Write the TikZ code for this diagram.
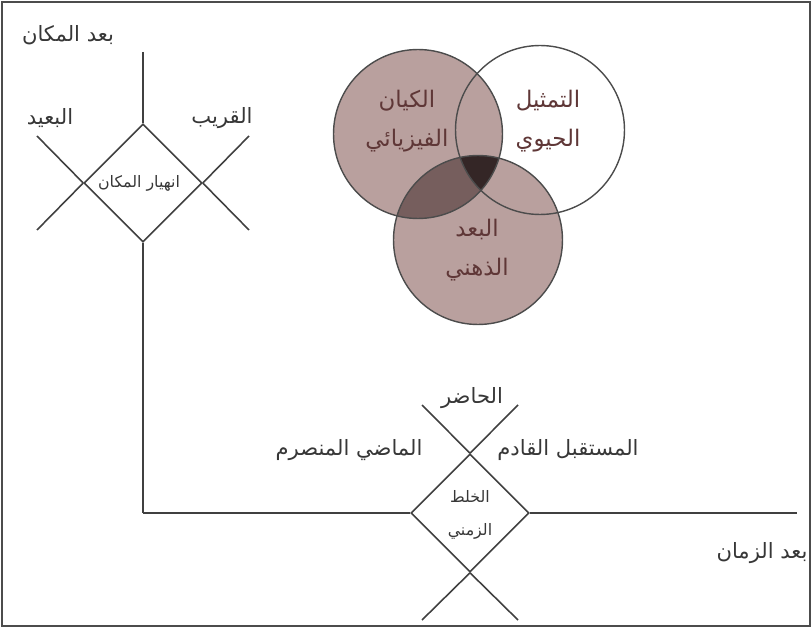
\documentclass[tikz,border=0pt]{standalone}
\usepackage{fontspec}
\newfontfamily\arabicfont[Script=Arabic]{DejaVu Sans}
\TeXXeTstate=1
\usetikzlibrary{shapes.geometric}
\definecolor{vennfill}{RGB}{185,160,158}
\definecolor{venntwo}{RGB}{118,94,93}
\definecolor{vennthree}{RGB}{52,38,38}
\definecolor{inktext}{RGB}{55,55,55}
\definecolor{venntext}{RGB}{95,55,55}
\newcommand{\artxt}[1]{\beginR #1\endR}
\tikzset{rhomb/.style={draw=black!75, line width=0.9pt, diamond, minimum width=2.36cm, minimum height=2.36cm, inner sep=0pt},
         axis/.style={draw=black!75, line width=0.9pt},
         venn/.style={draw=black!70, line width=0.8pt, circle, minimum size=3.38cm, inner sep=0pt},
         lbl/.style={text=inktext, inner sep=1pt, font=\arabicfont\fontsize{12}{14}\selectfont},
         smalllbl/.style={text=inktext, inner sep=1pt, align=center, font=\arabicfont\fontsize{9}{19}\selectfont},
         inlbl/.style={text=venntext, inner sep=1pt, align=center, font=\arabicfont\fontsize{13}{22}\selectfont}}

\begin{document}
\begin{tikzpicture}[x=0.02cm, y=-0.02cm]
    \useasboundingbox (0,0) rectangle (812,628);
    \draw[draw=black!70, line width=0.8pt] (2,2) rectangle (810,626);
    % place
    \node[rhomb](collapse)at(143,183){};
    \coordinate(placetop)at(143,52);
    \coordinate(corner)at(143,513);
    \coordinate(farup)at(37,136);
    \coordinate(fardown)at(37,230);
    \coordinate(nearup)at(249,136);
    \coordinate(neardown)at(249,230);
    \draw[axis](placetop)--(collapse.north);
    \draw[axis](collapse.south)--(corner);
    \draw[axis](collapse.west)--(farup);
    \draw[axis](collapse.west)--(fardown);
    \draw[axis](collapse.east)--(nearup);
    \draw[axis](collapse.east)--(neardown);
    \node[lbl](placeaxis)at(68,35){\artxt{بعد المكان}};
    \node[lbl](far)at(50,118){\artxt{البعيد}};
    \node[lbl](near)at(222,118){\artxt{القريب}};
    \node[smalllbl](collapsetxt)at(139,183){\artxt{انهيار المكان}};
    % time
    \node[rhomb](mix)at(470,513){};
    \coordinate(timeend)at(797,513);
    \coordinate(pastup)at(422,405);
    \coordinate(futureup)at(518,405);
    \coordinate(pastdown)at(422,620);
    \coordinate(futuredown)at(518,620);
    \draw[axis](corner)--(mix.west);
    \draw[axis](mix.east)--(timeend);
    \draw[axis](mix.north)--(pastup);
    \draw[axis](mix.north)--(futureup);
    \draw[axis](mix.south)--(pastdown);
    \draw[axis](mix.south)--(futuredown);
    \node[lbl](present)at(472,398){\artxt{الحاضر}};
    \node[lbl](past)at(349,450){\artxt{الماضي المنصرم}};
    \node[lbl](future)at(568,450){\artxt{المستقبل القادم}};
    \node[smalllbl](mixtxt)at(470,515){\artxt{الخلط}\\\artxt{الزمني}};
    \node[lbl](timeaxis)at(762,553){\artxt{بعد الزمان}};
    % venn
    \coordinate(bodyc)at(418,134);
    \coordinate(lifec)at(540,130);
    \coordinate(mindc)at(478,240);
    \fill[vennfill](bodyc)circle(1.69cm);
    \fill[vennfill](mindc)circle(1.69cm);
    \begin{scope}
        \clip(bodyc)circle(1.69cm);
        \fill[venntwo](mindc)circle(1.69cm);
        \clip(mindc)circle(1.69cm);
        \fill[vennthree](lifec)circle(1.69cm);
    \end{scope}
    \node[venn](body)at(bodyc){};
    \node[venn](life)at(lifec){};
    \node[venn](mind)at(mindc){};
    \node[inlbl](bodytxt)at(407,121){\artxt{الكيان}\\\artxt{الفيزيائي}};
    \node[inlbl](lifetxt)at(548,121){\artxt{التمثيل}\\\artxt{الحيوي}};
    \node[inlbl](mindtxt)at(477,250){\artxt{البعد}\\\artxt{الذهني}};
\end{tikzpicture}
\end{document}
